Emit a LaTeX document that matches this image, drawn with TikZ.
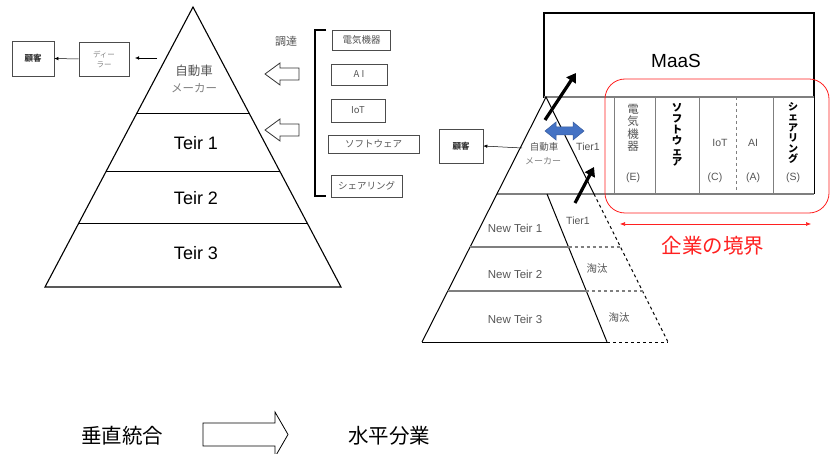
\documentclass[tikz,border=0pt]{standalone}
\usepackage{fontspec}
\setmainfont{Liberation Sans}
\newfontfamily\jp{Noto Sans CJK JP}
\usetikzlibrary{arrows.meta}
\definecolor{txtgray}{HTML}{555555}
\definecolor{linegray}{HTML}{7F7F7F}
\definecolor{arrowblue}{HTML}{4472C4}
\definecolor{bred}{HTML}{FF2020}
\begin{document}
\begin{tikzpicture}[x=1pt,y=-1pt,
  box/.style={draw=black!70,line width=0.6pt,inner sep=0pt,font=\jp\fontsize{9.5}{11}\selectfont,text=txtgray},
  smallarrow/.style={-{Latex[length=4pt,width=3.5pt]},line width=0.5pt},
  hollow/.style={draw=black!80,line width=0.8pt,fill=white},
  tiertxt/.style={font=\fontsize{18}{20}\selectfont},
  rtxt/.style={font=\fontsize{10.5}{12}\selectfont,text=txtgray},
  ntxt/.style={font=\fontsize{11.5}{13}\selectfont,text=txtgray},
  hline/.style={linegray,line width=1.6pt},
  hdash/.style={linegray,line width=1.2pt,dashed},
  thickarrow/.style={line width=3.2pt,-{Triangle[length=9pt,width=11pt]}}
]
\useasboundingbox (0,0) rectangle (830,454);

% ---------- left pyramid ----------
\draw[line width=1.1pt] (193,7) -- (341,287) -- (45,287) -- cycle;
\draw[line width=0.6pt] (137,113) -- (249,113);
\draw[line width=0.6pt] (106.3,171) -- (279.7,171);
\draw[line width=0.6pt] (78.8,223) -- (307.2,223);
\node[font=\jp\fontsize{12.5}{14}\selectfont,text=txtgray] (maker) at (194,71) {自動車};
\node[font=\jp\fontsize{11.5}{13}\selectfont,text=gray] (maker2) at (194,88) {メーカー};
\node[tiertxt] (t1) at (196,143) {Teir 1};
\node[tiertxt] (t2) at (196,198) {Teir 2};
\node[tiertxt] (t3) at (196,253) {Teir 3};

% customer / dealer
\node[box,minimum width=42pt,minimum height=35pt,font=\jp\bfseries\fontsize{8.5}{10}\selectfont,text=black!80] (cust) at (33,58.5) {顧客};
\node[box,minimum width=50pt,minimum height=34pt,align=center,font=\jp\fontsize{7.5}{10}\selectfont,text=gray] (dealer) at (104,59) {ディー\\ラー};
\draw[smallarrow] (dealer.west) -- (cust.east);
\coordinate (la1) at (157,58);
\coordinate (la2) at (135,58);
\draw[smallarrow] (la1) -- (la2);

% hollow arrows
\draw[hollow] (265,74) -- (280,63) -- (280,68) -- (299,68) -- (299,80) -- (280,80) -- (280,85) -- cycle;
\draw[hollow] (265,130) -- (280,119) -- (280,124) -- (299,124) -- (299,136) -- (280,136) -- (280,141) -- cycle;
\node[font=\jp\fontsize{11}{13}\selectfont,text=txtgray] (chotatsu) at (286,41) {調達};

% bracket
\draw[line width=2.4pt] (326,30) -- (315,30) -- (315,196) -- (326,196);

% supplier boxes
\node[box,minimum width=58pt,minimum height=20pt] (b1) at (361.5,40) {電気機器};
\node[box,minimum width=56pt,minimum height=21pt] (b2) at (359,74.5) {A I};
\node[box,minimum width=54pt,minimum height=23pt] (b3) at (358,110.5) {IoT};
\node[box,minimum width=91pt,minimum height=18pt] (b4) at (373.5,144) {ソフトウェア};
\node[box,minimum width=71pt,minimum height=22pt] (b5) at (366.5,186) {シェアリング};

% ---------- right side ----------
\draw[line width=1.1pt] (544,13) rectangle (814,97);
\node[font=\fontsize{19}{22}\selectfont] (maas) at (676,61) {MaaS};

% table
\draw[linegray,line width=1.6pt] (544,97) -- (814,97);
\draw[linegray,line width=1.4pt] (497,194) -- (814,194);
\foreach \xx in {614,655,699,773} \draw[linegray,line width=0.8pt] (\xx,97) -- (\xx,194);
\draw[linegray,line width=1pt,dashed] (736,97) -- (736,194);
\draw[line width=0.9pt] (814,97) -- (814,194);

\node[align=center,font=\jp\fontsize{11.5}{12.3}\selectfont,text=txtgray] (ce) at (633,128) {電\\気\\機\\器};
\node[align=center,font=\jp\bfseries\fontsize{10.5}{10.9}\selectfont] (cs) at (677,135) {ソ\\フ\\ト\\ウ\\ェ\\ア};
\node[align=center,font=\jp\bfseries\fontsize{10}{10.4}\selectfont] (csh) at (793,133) {シ\\ェ\\ア\\リ\\ン\\グ};
\node[rtxt] (iot) at (720,143) {IoT};
\node[rtxt] (ai) at (753,143) {AI};
\node[rtxt] (le) at (633,178) {(E)};
\node[rtxt] (lc) at (715,178) {(C)};
\node[rtxt] (la) at (753,178) {(A)};
\node[rtxt] (ls) at (793,178) {(S)};

% right pyramid
\draw[line width=1pt] (422,342) -- (546,97) -- (594,194);
\draw[line width=1pt,dashed] (594,194) -- (668,342);
\draw[line width=1pt] (547,194) -- (607,342);
\draw[hline] (470,247) -- (568.5,247);
\draw[hdash] (568.5,247) -- (621,247);
\draw[hline] (448,291) -- (586,291);
\draw[hdash] (586,291) -- (643,291);
\draw[line width=1pt] (422,342) -- (607,342);
\draw[line width=1pt,dashed] (607,342) -- (668,342);

\node[font=\jp\fontsize{9.5}{11}\selectfont,text=txtgray] (rmaker) at (544,147) {自動車};
\node[font=\jp\fontsize{9}{11}\selectfont,text=gray] (rmaker2) at (543,161) {メーカー};
\node[rtxt] (rt1) at (588,147) {Tier1};
\node[ntxt] (nt1) at (515,228) {New Teir 1};
\node[rtxt] (rt1b) at (578,221) {Tier1};
\node[ntxt] (nt2) at (515,274) {New Teir 2};
\node[font=\jp\fontsize{10.5}{12}\selectfont,text=txtgray] (tt1) at (597,269) {淘汰};
\node[ntxt] (nt3) at (515,319) {New Teir 3};
\node[font=\jp\fontsize{10.5}{12}\selectfont,text=txtgray] (tt2) at (619,318) {淘汰};

\node[box,minimum width=44pt,minimum height=34pt,font=\jp\bfseries\fontsize{8.5}{10}\selectfont,text=black!80] (rcust) at (461,146) {顧客};
\coordinate (ra1) at (522,148);
\draw[smallarrow] (ra1) -- (rcust.east);

% black arrows
\coordinate (k1s) at (545,120); \coordinate (k1e) at (576,73);
\coordinate (k2s) at (575,203); \coordinate (k2e) at (594,167);
\draw[thickarrow] (k1s) -- (k1e);
\draw[thickarrow] (k2s) -- (k2e);

% blue double arrow
\draw[fill=arrowblue,draw=arrowblue!80!black,line width=0.5pt]
  (545,131) -- (556,122) -- (556,127) -- (573,127) -- (573,122) -- (584,131)
  -- (573,140) -- (573,135) -- (556,135) -- (556,140) -- cycle;

% red boundary
\draw[bred,line width=0.8pt,rounded corners=20pt] (605,79) rectangle (829,213);
\coordinate (r1) at (620,224); \coordinate (r2) at (811,224);
\draw[bred,line width=0.6pt,{Latex[length=5pt,width=4pt]}-{Latex[length=5pt,width=4pt]}] (r1) -- (r2);
\node[text=bred,font=\jp\fontsize{20.5}{24}\selectfont] (kyokai) at (713,246) {企業の境界};

% bottom
\node[font=\jp\fontsize{20.5}{24}\selectfont] (vert) at (122,436) {垂直統合};
\draw[line width=0.8pt,fill=white] (203,423) -- (275,423) -- (275,412) -- (288,434.5) -- (275,457) -- (275,446) -- (203,446) -- cycle;
\node[font=\jp\fontsize{20.5}{24}\selectfont] (horiz) at (389,436) {水平分業};
\end{tikzpicture}
\end{document}
